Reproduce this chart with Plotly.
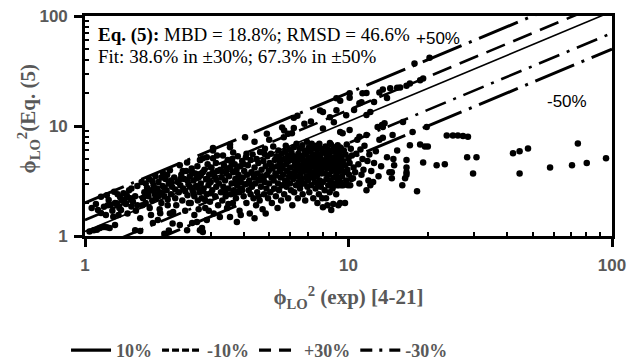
import plotly.graph_objects as go

# --- experimental vs. predicted two-phase multipliers, grouped by region of the cloud ---
pts_low_x = [(1.04,1.10),(1.08,1.13),(1.11,1.14),(1.14,1.18),(1.18,1.21),(1.21,1.20),(1.24,1.18),(1.30,1.26),(1.55,1.13),(1.62,1.11),
    (1.12,1.72),(1.15,1.62),(1.18,1.84),(1.20,1.55),(1.22,1.90),(1.25,1.91),(1.27,1.70),(1.30,2.00),(1.32,1.99),(1.35,1.80),
    (1.37,1.72),(1.38,2.10),(1.41,2.12),(1.43,1.95),(1.45,2.25),(1.49,2.20),(1.50,1.85),(1.52,2.05),(1.55,2.30),(1.58,1.90),
    (1.15,2.27),(1.21,2.35),(1.23,2.12),(1.29,2.52),(1.33,2.40),(1.40,2.45),(1.47,2.60),(1.10,1.95),(1.06,1.80),(1.28,1.50),
    (1.34,1.55),(1.45,1.60),(1.56,1.70),(1.50,2.70),(1.58,2.85),(1.44,2.35),(1.36,2.25)]

pts_band_2 = [(1.62,1.45),(1.65,1.90),(1.66,2.20),(1.68,2.50),(1.70,2.00),(1.72,2.75),(1.74,2.30),(1.76,1.80),(1.78,2.60),(1.80,2.10),
    (1.81,1.31),(1.82,2.90),(1.84,2.40),(1.86,2.20),(1.88,2.70),(1.89,1.40),(1.90,3.10),(1.92,2.50),(1.93,1.61),(1.95,2.00),
    (1.97,2.85),(1.98,3.70),(2.00,2.30),(2.02,3.30),(2.04,2.60),(2.06,1.90),(2.08,3.00),(2.10,1.60),(2.10,3.95),(2.12,2.40),
    (2.14,2.80),(2.16,1.65),(2.18,3.40),(2.20,2.20),(2.20,2.65),(1.70,3.00),(1.75,3.30),(1.85,3.50),(1.95,3.40),(2.05,3.60),
    (1.78,1.55),(1.92,1.75),(2.00,1.05),(2.08,1.12),(2.15,1.30),(1.64,3.10),(1.80,3.15),(1.90,2.30),(2.00,2.75),(2.12,3.20),
    (1.73,2.55),(1.83,2.65),(1.96,2.45),(2.06,2.15)]

pts_band_3 = [(2.22,1.90),(2.25,3.10),(2.27,2.50),(2.29,4.40),(2.29,1.26),(2.30,2.90),(2.32,3.60),(2.34,2.10),(2.36,2.70),(2.38,3.30),
    (2.40,1.70),(2.42,3.90),(2.44,4.67),(2.44,1.13),(2.45,2.35),(2.47,2.95),(2.50,3.50),(2.52,2.00),(2.54,4.10),(2.55,1.31),
    (2.56,2.60),(2.58,3.20),(2.60,2.30),(2.62,3.70),(2.64,2.85),(2.66,1.34),(2.67,4.30),(2.68,2.10),(2.70,3.40),(2.72,2.50),
    (2.73,1.13),(2.74,4.90),(2.75,3.00),(2.77,2.20),(2.78,1.18),(2.80,3.80),(2.80,1.09),(2.82,2.70),(2.84,4.00),(2.86,1.80),
    (2.88,3.30),(2.90,2.40),(2.90,1.40),(2.92,4.50),(2.94,2.90),(2.96,3.60),(2.98,2.05),(3.00,3.10),(3.02,4.20),(3.04,2.60),
    (3.06,5.10),(3.06,6.00),(3.08,1.60),(3.10,3.50),(3.12,2.30),(3.14,4.60),(3.15,2.80),(3.17,5.40),(3.18,3.90),(3.20,1.90),
    (2.35,3.90),(2.48,2.00),(2.60,1.55),(2.70,1.75),(2.85,2.15),(2.95,1.70),(3.00,2.45),(2.55,3.80),(2.65,3.35),(2.75,3.55),
    (2.50,2.80),(2.40,2.55),(2.30,3.30),(2.45,3.20),(2.58,2.45),(2.68,2.75),(2.80,2.55),(2.92,3.25),(3.05,3.75),(3.15,3.25)]

pts_band_4 = [(3.22,3.00),(3.25,1.49),(3.26,4.00),(3.28,2.50),(3.30,3.40),(3.32,2.10),(3.34,5.40),(3.35,2.80),(3.37,4.40),(3.40,3.20),
    (3.42,2.30),(3.44,3.70),(3.46,1.80),(3.48,4.90),(3.50,2.70),(3.52,3.50),(3.55,1.49),(3.55,6.40),(3.56,4.20),(3.58,2.40),
    (3.60,3.00),(3.62,5.00),(3.64,2.00),(3.65,5.75),(3.65,3.80),(3.67,2.60),(3.70,4.50),(3.72,3.30),(3.74,2.20),(3.76,4.00),
    (3.77,1.34),(3.78,2.90),(3.80,5.30),(3.82,3.60),(3.84,2.50),(3.86,1.70),(3.88,4.30),(3.90,3.10),(3.92,2.70),(3.95,4.80),
    (3.97,3.40),(4.00,2.30),(4.02,3.90),(4.05,7.90),(4.05,2.95),(4.08,5.20),(4.10,5.60),(4.10,2.00),(4.12,3.60),(4.15,4.40),
    (4.18,2.60),(4.20,3.20),(4.22,1.60),(4.25,4.90),(4.28,3.80),(4.30,2.80),(4.33,5.50),(4.36,2.20),(4.38,3.40),(4.40,4.20),
    (4.43,3.00),(4.46,1.90),(4.48,5.00),(4.50,2.50),(4.52,3.70),(4.55,4.60),(4.58,3.20),(4.60,2.10),(4.62,5.80),(4.65,2.80),
    (4.68,4.00),(4.70,3.50),(4.72,1.75),(4.75,4.80),(4.78,2.40),(4.80,3.10),(4.82,6.20),(4.85,4.30),(4.88,2.70),(4.90,8.50),
    (4.90,3.60),(4.92,5.30),(4.95,2.20),(4.98,3.90),(3.30,3.90),(3.45,4.10),(3.60,4.60),(3.75,3.10),(3.85,3.25),(3.95,2.60),
    (4.15,3.00),(4.35,3.65),(4.60,3.30),(4.75,3.25),(3.50,1.95),(3.90,1.55),(4.40,1.45),(4.85,1.60),(3.40,2.55),(3.70,2.45),
    (4.00,4.50),(4.25,2.40),(4.55,2.30),(4.80,5.60)]

pts_core = [(5.00,3.00),(5.02,4.60),(5.05,2.50),(5.08,5.60),(5.10,3.40),(5.12,2.00),(5.15,4.10),(5.18,6.50),(5.20,3.20),(5.22,2.70),
    (5.25,4.90),(5.28,3.70),(5.30,2.30),(5.33,5.30),(5.36,4.30),(5.38,1.80),(5.40,3.00),(5.42,6.00),(5.45,2.60),(5.48,3.90),
    (5.50,4.70),(5.52,3.40),(5.55,2.10),(5.58,5.60),(5.60,9.70),(5.60,2.90),(5.62,4.20),(5.65,3.60),(5.68,7.90),(5.70,9.10),
    (5.70,2.40),(5.72,5.00),(5.75,3.20),(5.78,6.60),(5.80,4.50),(5.82,2.80),(5.85,3.90),(5.88,5.40),(5.90,8.50),(5.90,2.20),
    (5.92,4.80),(5.95,3.50),(5.98,6.10),(6.00,3.00),(6.02,4.20),(6.05,2.60),(6.08,5.70),(6.10,8.60),(6.10,3.70),(6.12,1.90),
    (6.15,4.90),(6.18,3.30),(6.20,11.9),(6.20,9.60),(6.20,6.40),(6.22,2.50),(6.25,4.40),(6.28,3.90),(6.30,5.20),(6.32,2.90),
    (6.35,6.90),(6.38,3.50),(6.40,12.4),(6.40,4.70),(6.42,2.20),(6.45,5.60),(6.48,3.10),(6.50,4.10),(6.52,6.20),(6.55,2.70),
    (6.58,3.70),(6.60,5.00),(6.62,4.40),(6.65,3.30),(6.68,6.70),(6.70,2.40),(6.72,5.40),(6.75,3.90),(6.78,4.80),(6.80,3.00),
    (6.82,6.00),(6.85,2.10),(6.88,4.30),(6.90,5.70),(6.92,3.50),(6.95,7.20),(6.98,2.80),(7.00,4.60),(7.02,3.20),(7.05,5.20),
    (7.08,6.40),(7.10,2.50),(7.12,4.00),(7.15,3.60),(7.18,5.90),(7.20,4.90),(7.22,2.90),(7.25,6.90),(7.28,3.40),(7.30,4.40),
    (7.32,5.50),(7.35,2.20),(7.38,3.80),(7.40,6.30),(7.42,4.70),(7.45,3.10),(7.48,5.10),(7.50,2.70),(7.52,4.20),(7.55,6.60),
    (7.58,3.50),(7.60,6.10),(7.60,5.60),(7.62,2.00),(7.65,4.50),(7.68,3.90),(7.70,5.00),(7.72,2.40),(7.75,6.90),(7.78,3.20),
    (7.80,13.8),(7.80,4.20),(7.82,5.40),(7.85,2.80),(7.88,6.20),(7.90,3.70),(7.92,4.90),(7.95,2.20),(7.98,5.80),
    (5.30,3.55),(5.55,4.45),(5.85,3.15),(6.05,3.45),(6.35,4.15),(6.60,2.95),(6.90,3.95),(7.15,4.25),(7.40,3.65),(7.65,2.95),
    (5.10,4.35),(5.45,5.10),(5.75,5.85),(6.15,5.35),(6.45,4.95),(6.75,4.05),(7.05,4.95),(7.35,5.05),(7.60,4.75),(7.85,4.55)]

pts_band_9 = [(8.00,3.10),(8.00,1.83),(8.05,4.40),(8.10,5.70),(8.12,2.60),(8.15,3.70),(8.18,6.50),(8.20,4.90),(8.22,2.20),(8.25,3.30),
    (8.28,5.30),(8.30,4.10),(8.32,1.90),(8.35,6.10),(8.38,2.90),(8.40,4.60),(8.42,3.60),(8.45,5.60),(8.48,2.50),(8.50,7.00),
    (8.50,2.90),(8.52,4.30),(8.55,3.20),(8.58,6.80),(8.60,1.72),(8.60,5.00),(8.62,2.90),(8.65,3.90),(8.68,5.90),(8.70,2.70),
    (8.72,4.50),(8.75,1.95),(8.78,3.40),(8.80,6.40),(8.82,5.20),(8.85,2.90),(8.88,4.00),(8.90,3.00),(8.92,6.00),(8.95,4.70),
    (8.98,2.40),(9.00,3.60),(9.02,5.50),(9.05,2.90),(9.08,4.20),(9.10,6.70),(9.12,3.30),(9.15,1.90),(9.18,5.00),(9.20,2.90),
    (9.22,3.90),(9.25,5.80),(9.28,4.50),(9.30,8.80),(9.30,2.00),(9.32,3.10),(9.35,6.30),(9.38,4.10),(9.40,2.90),(9.42,5.30),
    (9.45,3.50),(9.50,8.60),(9.50,4.80),(9.55,2.90),(9.60,6.00),(9.65,3.80),(9.70,2.00),(9.72,4.40),(9.75,5.50),(9.80,3.20),
    (9.85,6.80),(9.90,4.00),(9.95,2.90),(10.0,5.10),(10.05,3.60),(10.1,9.20),(10.1,4.60),(10.15,2.90),(10.2,6.20),(10.25,3.30),
    (10.3,5.40),(10.4,3.35),(10.45,4.20)]

pts_band_20 = [(10.6,3.80),(10.7,5.60),(10.8,7.50),(10.9,4.50),(11.0,3.00),(11.0,8.00),(11.1,6.10),(11.2,3.60),(11.3,5.00),(11.4,4.00),
    (11.5,6.60),(11.7,8.30),(11.7,2.60),(11.8,4.80),(11.9,3.20),(12.0,5.50),(12.1,2.90),(12.2,3.90),(12.4,3.10),(12.5,4.60),
    (12.7,5.90),(12.9,9.80),(13.0,3.50),(13.1,7.50),(13.3,4.30),(13.4,10.2),(13.5,7.80),(13.7,10.6),(13.5,9.80),(14.0,5.20),
    (14.3,3.80),(14.6,3.35),(14.6,3.80),(14.7,8.30),(14.8,5.00),(14.9,4.40),(15.3,6.00),(16.0,2.90),(16.1,10.9),(16.4,3.35),
    (16.6,3.80),(16.6,4.90),(16.6,4.20),(16.6,3.60),(17.1,6.70),(17.5,8.80),(18.2,2.55),(18.7,6.80),(19.2,4.67),(19.5,6.50),
    (19.8,9.80),(20.0,6.50)]

pts_high_x = [(21.6,4.40),(23.2,4.50),(23.6,8.20),(24.9,8.20),(26.0,8.20),(27.2,8.10),(28.4,8.00),(28.2,5.20),(30.6,5.20),(29.7,3.70),
    (42.1,5.64),(44.6,5.90),(48.0,6.25),(44.6,3.70),(58.2,4.20),(70.5,4.40),(74.2,6.95),(80.2,4.60),(94.9,5.10)]

pts_over = [(9.0,17.9),(10.1,19.8),(11.3,19.8),(11.0,16.1),(11.2,16.4),(13.1,20.2),(14.4,22.0),(15.7,22.4),(17.1,24.4),(18.7,26.0),
    (17.8,37.0),(20.3,41.7),(8.0,13.4),(9.0,13.9),(9.3,17.0),(10.1,18.1),(11.7,20.0),(12.1,13.4),(11.7,12.6),(13.5,21.5),
    (15.3,22.3),(16.6,23.2),(19.2,27.0),(8.5,12.0),(7.2,11.0),(6.8,10.5),(8.0,9.5),(8.8,10.8),(9.8,12.5),(10.5,14.0),
    (12.5,16.5),(14.0,18.0),(3.06,6.3),(2.9,5.2),(2.8,5.1),(2.73,4.9),(3.55,6.8),(4.4,7.2),(5.0,7.5)]

# reference lines: ratio of predicted to experimental
line_ratios = [2.0, 1.4, 1.1, 0.7, 0.5]
line_dashes = ["42px,8px,3px,8px", "20px,9px", "solid", "22px,8px,3px,8px", "42px,8px,3px,8px"]
line_widths = [3.0, 2.6, 1.6, 2.6, 3.0]
x_span = [1, 100]

legend_names = ["10%", "-10%", "+30%", "-30%"]
legend_dashes = ["solid", "7px,3px", "12px,8px", "12px,7px,3px,7px"]

tick_vals = [1, 10, 100]
minor_vals = [2, 3, 4, 5, 6, 7, 8, 9, 20, 30, 40, 50, 60, 70, 80, 90]

groups = [pts_low_x, pts_band_2, pts_band_3, pts_band_4, pts_core, pts_band_9, pts_band_20, pts_high_x, pts_over]
all_pts = [p for g in groups for p in g]
xs = [p[0] for p in all_pts]
ys = [p[1] for p in all_pts]

fig = go.Figure()

for r, d, w in zip(line_ratios, line_dashes, line_widths):
    fig.add_trace(go.Scatter(x=x_span, y=[r * v for v in x_span], mode="lines",
                             line=dict(color="black", width=w, dash=d),
                             showlegend=False, hoverinfo="skip"))

fig.add_trace(go.Scatter(x=xs, y=ys, mode="markers",
                         marker=dict(color="black", size=6.5, line=dict(width=0)),
                         showlegend=False))

for name, d in zip(legend_names, legend_dashes):
    fig.add_trace(go.Scatter(x=[None], y=[None], mode="lines", name=name,
                             line=dict(color="black", width=3.2, dash=d)))

gray = "#595959"
tickfont = dict(family="Liberation Sans", size=17, color=gray, weight="bold")
titlefont = dict(family="Liberation Serif", size=21, color=gray, weight="bold")

axis_common = dict(
    type="log", range=[0, 2], showgrid=False, zeroline=False,
    showline=True, linecolor="black", linewidth=2.6, mirror=True,
    tickmode="array", tickvals=tick_vals, ticktext=[str(v) for v in tick_vals],
    ticks="outside", ticklen=8, tickwidth=2.6, tickcolor="black",
    tickfont=tickfont,
    minor=dict(tickmode="array", tickvals=minor_vals, ticks="inside",
               ticklen=4, tickwidth=2, tickcolor="black"),
)

fig.update_layout(
    width=628, height=362,
    margin=dict(l=85, r=16, t=16, b=126, autoexpand=False),
    paper_bgcolor="white", plot_bgcolor="white",
    xaxis=dict(**axis_common, ticklabelstandoff=4,
               title=dict(text="ϕ<sub>LO</sub><sup>2</sup> (exp) [4-21]", font=titlefont, standoff=16)),
    yaxis=dict(**axis_common, ticklabelstandoff=3),
    legend=dict(orientation="h", x=-0.036, xanchor="left", y=-0.52, yanchor="middle",
                font=dict(family="Liberation Serif", size=18, color=gray, weight="bold"),
                itemwidth=40, tracegroupgap=0, bgcolor="rgba(0,0,0,0)"),
    showlegend=True,
)

# y-axis title, placed as a rotated label so it centres on the plot height
fig.add_annotation(xref="paper", yref="paper", x=-0.108, y=0.53, xanchor="center", yanchor="middle",
                   textangle=-90, text="ϕ<sub>LO</sub><sup>2</sup>(Eq. (5)", showarrow=False, font=titlefont)

serif_black = dict(family="Liberation Serif", size=19, color="black")
fig.add_annotation(xref="paper", yref="paper", x=0.02, y=0.912, xanchor="left", yanchor="middle",
                   text="<b>Eq. (5):</b> MBD = 18.8%; RMSD = 46.6%", showarrow=False, font=serif_black)
fig.add_annotation(xref="paper", yref="paper", x=0.02, y=0.814, xanchor="left", yanchor="middle",
                   text="Fit: 38.6% in ±30%; 67.3% in ±50%", showarrow=False, font=serif_black)

sans_black = dict(family="Liberation Sans", size=17, color="black")
fig.add_annotation(xref="paper", yref="paper", x=0.624, y=0.9, xanchor="left", yanchor="middle",
                   text="+50%", showarrow=False, font=sans_black)
fig.add_annotation(xref="paper", yref="paper", x=0.872, y=0.61, xanchor="left", yanchor="middle",
                   text="-50%", showarrow=False, font=sans_black)

fig.write_html("out.html")
